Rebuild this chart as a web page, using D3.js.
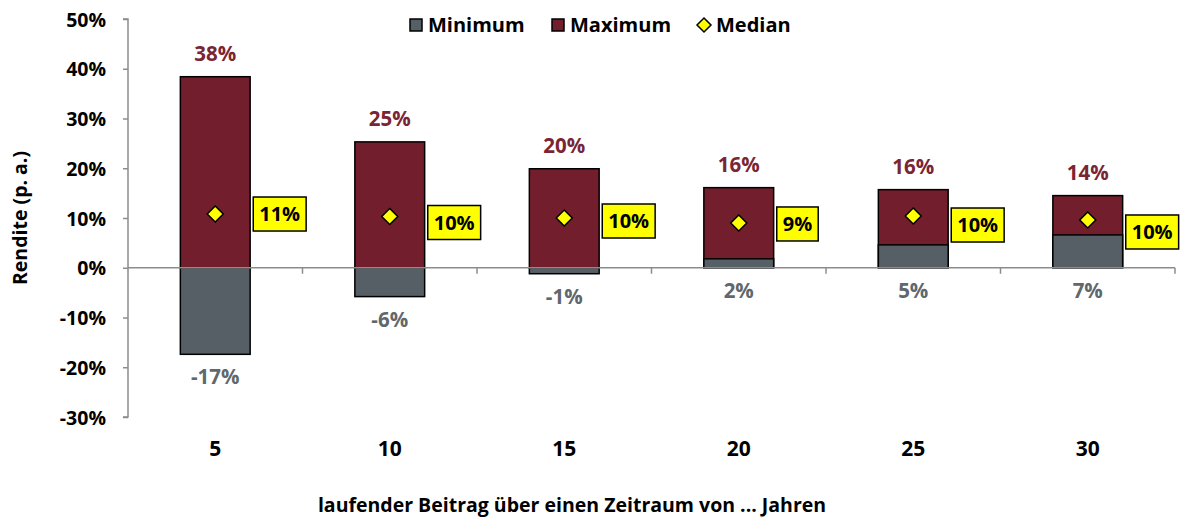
<!DOCTYPE html>
<html>
<head>
<meta charset="utf-8">
<script src="https://cdn.jsdelivr.net/npm/d3@7"></script>
<style>
  body { margin: 0; background: #fff; }
  svg text { font-family: "Open Sans", sans-serif; font-weight: bold; }
</style>
</head>
<body>
<svg id="chart"></svg>
<script>
// Data (percent p. a.)
var periods = ["5", "10", "15", "20", "25", "30"];
var minValues = [-17.4, -5.8, -1.2, 1.8, 4.6, 6.6];
var maxValues = [38.4, 25.3, 19.9, 16.1, 15.7, 14.5];
var medianValues = [10.8, 10.3, 10.0, 9.0, 10.4, 9.6];
var yTicks = [-30, -20, -10, 0, 10, 20, 30, 40, 50];

// small vertical shifts of the median boxes, as in the original
var boxNudge = [0, 6, 3, 1, 9, 12];

var width = 1180;
var height = 518;
var plotLeft = 128, plotRight = 1175, plotTop = 19, plotBottom = 417;

var greyColor = "#555f65";
var redColor = "#721e2c";
var axisColor = "#8c8c8c";

var svg = d3.select("#chart").attr("width", width).attr("height", height);

var x = d3.scaleBand()
    .domain(periods)
    .range([plotLeft, plotRight])
    .paddingInner(0.6)
    .paddingOuter(0.3);

var y = d3.scaleLinear()
    .domain([-30, 50])
    .range([plotBottom, plotTop]);

// plain hyphen as minus sign, like the original
var locale = d3.formatLocale({ decimal: ".", thousands: ",", grouping: [3], currency: ["", ""], minus: "-" });
var fmt = function (v) { return locale.format(".0%")(v / 100); };

var data = periods.map(function (p, i) {
    return { period: p, min: minValues[i], max: maxValues[i], median: medianValues[i], nudge: boxNudge[i] };
});

// Maximum bars (from 0 to max)
svg.selectAll("rect.max")
    .data(data)
    .enter().append("rect")
    .attr("class", "max")
    .attr("x", function (d) { return x(d.period); })
    .attr("y", function (d) { return y(d.max); })
    .attr("width", x.bandwidth())
    .attr("height", function (d) { return y(0) - y(d.max); })
    .attr("fill", redColor)
    .attr("stroke", "#000")
    .attr("stroke-width", 1.5);

// Minimum bars (from 0 to min)
svg.selectAll("rect.min")
    .data(data)
    .enter().append("rect")
    .attr("class", "min")
    .attr("x", function (d) { return x(d.period); })
    .attr("y", function (d) { return Math.min(y(d.min), y(0)); })
    .attr("width", x.bandwidth())
    .attr("height", function (d) { return Math.abs(y(d.min) - y(0)); })
    .attr("fill", greyColor)
    .attr("stroke", "#000")
    .attr("stroke-width", 1.5);

// Y axis
var yAxis = svg.append("g")
    .attr("transform", "translate(" + plotLeft + ",0)")
    .call(d3.axisLeft(y).tickValues(yTicks).tickSize(5).tickFormat(fmt));
yAxis.select(".domain").attr("stroke", axisColor).attr("stroke-width", 1.5)
    .attr("d", "M-5," + plotBottom + "H0V" + plotTop + "H-5");
yAxis.selectAll(".tick line").attr("stroke", axisColor).attr("stroke-width", 1.5);
yAxis.selectAll(".tick text")
    .attr("x", -22)
    .attr("dy", "0.36em")
    .style("font-size", "19.5px")
    .attr("fill", "#000");

// X axis line at 0 with ticks between categories
var boundaries = periods.map(function (p) { return x(p) + x.bandwidth() + x.step() * 0.3; });
svg.append("line")
    .attr("x1", plotLeft).attr("x2", plotRight)
    .attr("y1", y(0)).attr("y2", y(0))
    .attr("stroke", axisColor).attr("stroke-width", 1.5);
svg.selectAll("line.xtick")
    .data(boundaries)
    .enter().append("line")
    .attr("class", "xtick")
    .attr("x1", function (d) { return d; }).attr("x2", function (d) { return d; })
    .attr("y1", y(0)).attr("y2", y(0) + 6)
    .attr("stroke", axisColor).attr("stroke-width", 1.5);

// category labels at the bottom
svg.selectAll("text.cat")
    .data(periods)
    .enter().append("text")
    .attr("class", "cat")
    .attr("x", function (d) { return x(d) + x.bandwidth() / 2; })
    .attr("y", 456)
    .attr("text-anchor", "middle")
    .style("font-size", "21px")
    .text(function (d) { return d; });

// Max labels
svg.selectAll("text.maxlab")
    .data(data)
    .enter().append("text")
    .attr("class", "maxlab")
    .attr("x", function (d) { return x(d.period) + x.bandwidth() / 2; })
    .attr("y", function (d) { return y(d.max) - 16; })
    .attr("text-anchor", "middle")
    .attr("fill", "#7a2533")
    .style("font-size", "20.5px")
    .text(function (d) { return fmt(d.max); });

// Min labels
svg.selectAll("text.minlab")
    .data(data)
    .enter().append("text")
    .attr("class", "minlab")
    .attr("x", function (d) { return x(d.period) + x.bandwidth() / 2; })
    .attr("y", function (d) { return Math.max(y(d.min), y(0)) + 30; })
    .attr("text-anchor", "middle")
    .attr("fill", "#5f686d")
    .style("font-size", "20.5px")
    .text(function (d) { return fmt(d.min); });

// Median markers
svg.selectAll("path.median")
    .data(data)
    .enter().append("path")
    .attr("class", "median")
    .attr("d", "M0,-8L8,0L0,8L-8,0Z")
    .attr("transform", function (d) {
        return "translate(" + (x(d.period) + x.bandwidth() / 2) + "," + y(d.median) + ")";
    })
    .attr("fill", "#ffff00")
    .attr("stroke", "#000")
    .attr("stroke-width", 1.5);

// Median label boxes
var boxes = svg.selectAll("g.medbox")
    .data(data)
    .enter().append("g")
    .attr("class", "medbox")
    .attr("transform", function (d) {
        return "translate(" + (x(d.period) + x.bandwidth() / 2 + 38) + "," + (y(d.median) + d.nudge) + ")";
    });
boxes.append("rect").attr("fill", "#ffff00").attr("stroke", "#000").attr("stroke-width", 1.5);
boxes.append("text")
    .attr("dy", "0.36em")
    .style("font-size", "20px")
    .attr("fill", "#000")
    .text(function (d) { return fmt(d.median); });
boxes.each(function () {
    var g = d3.select(this);
    var w = g.select("text").node().getComputedTextLength();
    g.select("text").attr("x", 6);
    g.select("rect").attr("x", 0).attr("y", -17).attr("width", w + 12).attr("height", 34);
});

// Y axis title
svg.append("text")
    .attr("transform", "translate(27," + ((plotTop + plotBottom) / 2) + ") rotate(-90)")
    .attr("text-anchor", "middle")
    .style("font-size", "19.5px")
    .text("Rendite (p. a.)");

// X axis title
svg.append("text")
    .attr("x", 572)
    .attr("y", 512)
    .attr("text-anchor", "middle")
    .style("font-size", "19.5px")
    .text("laufender Beitrag über einen Zeitraum von ... Jahren");

// Legend
var legend = svg.append("g").attr("class", "legend").style("font-size", "20px");
legend.append("rect").attr("x", 410).attr("y", 19).attr("width", 12).attr("height", 12)
    .attr("fill", greyColor).attr("stroke", "#000").attr("stroke-width", 1.5);
legend.append("text").attr("x", 428).attr("y", 25).attr("dy", "0.36em").text("Minimum");
legend.append("rect").attr("x", 552).attr("y", 19).attr("width", 12).attr("height", 12)
    .attr("fill", redColor).attr("stroke", "#000").attr("stroke-width", 1.5);
legend.append("text").attr("x", 570).attr("y", 25).attr("dy", "0.36em").text("Maximum");
legend.append("path").attr("d", "M0,-7L7,0L0,7L-7,0Z")
    .attr("transform", "translate(704,25)")
    .attr("fill", "#ffff00").attr("stroke", "#000").attr("stroke-width", 1.5);
legend.append("text").attr("x", 716).attr("y", 25).attr("dy", "0.36em").text("Median");
</script>
</body>
</html>
